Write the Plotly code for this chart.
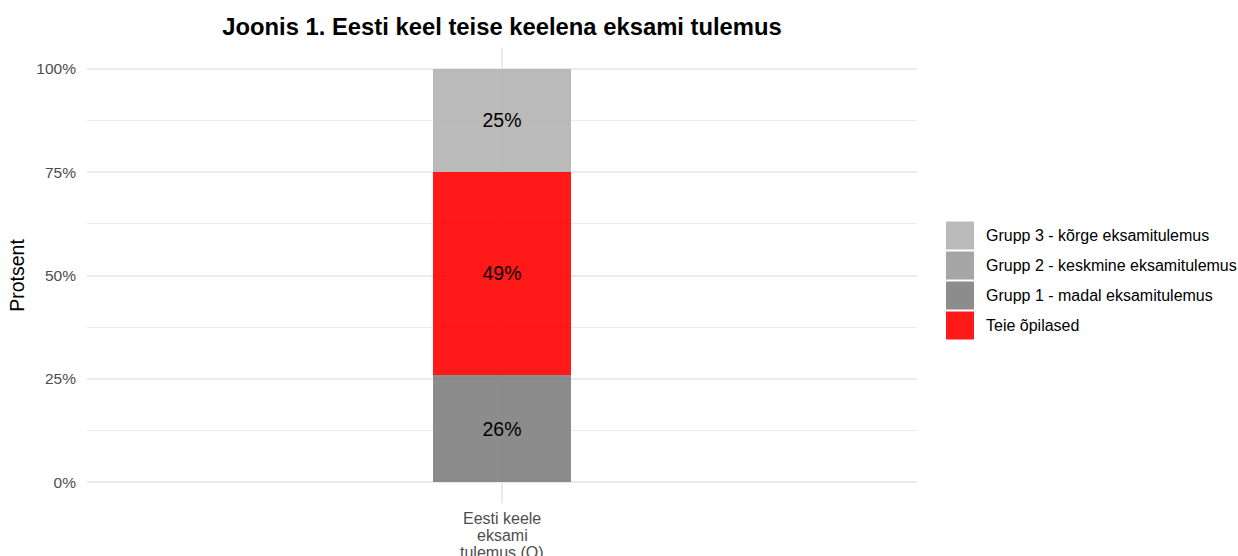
import plotly.graph_objects as go

# Data
category = "Eesti keele\neksami\ntulemus (O)"
groups = ["Grupp 1 - madal eksamitulemus", "Grupp 2 - keskmine eksamitulemus",
          "Teie õpilased", "Grupp 3 - kõrge eksamitulemus"]
values = [26, 0, 49, 25]
colors = ["#7F7F7F", "#9C9C9C", "#FF0000", "#B2B2B2"]
legend_order = ["Grupp 3 - kõrge eksamitulemus", "Grupp 2 - keskmine eksamitulemus",
                "Grupp 1 - madal eksamitulemus", "Teie õpilased"]
y_ticks = [0, 25, 50, 75, 100]
y_ticktext = [f"{v}%" for v in y_ticks]

FONT = "Liberation Sans, Arial, sans-serif"
W, H = 1238, 556
ML, MR, MT, MB = 87, 321, 48, 53
PW, PH = W - ML - MR, H - MT - MB


def px_x(px):
    return (px - ML) / PW


def px_y(py):
    return 1 - (py - MT) / PH


fig = go.Figure()
for name, val, col in zip(groups, values, colors):
    fig.add_trace(go.Bar(
        x=[category], y=[val], name=name,
        marker=dict(color=col, opacity=0.9, line=dict(width=0)),
        width=0.2,
        text=[f"{val}%" if val > 0 else ""],
        textposition="inside", insidetextanchor="middle",
        textfont=dict(family=FONT, size=19.5, color="black"),
        constraintext="none",
        showlegend=False,
    ))

shapes, annotations = [], []

# Category label, one annotation per line (tighter line height than tick labels)
for i, line in enumerate(category.split("\n")):
    annotations.append(dict(
        xref="x", yref="paper", x=category, y=px_y(518 + 17 * i),
        text=line, showarrow=False, xanchor="center", yanchor="middle",
        font=dict(family=FONT, size=16, color="#4D4D4D"),
    ))

# Legend keys + labels
key_size, key_pitch = 28, 30
lx0, ly0 = 946, 221.5
for i, name in enumerate(legend_order):
    col = colors[groups.index(name)]
    top = ly0 + i * key_pitch
    shapes.append(dict(
        type="rect", xref="paper", yref="paper",
        x0=px_x(lx0), x1=px_x(lx0 + key_size),
        y0=px_y(top + key_size), y1=px_y(top),
        fillcolor=col, opacity=0.9, line=dict(width=0), layer="above",
    ))
    annotations.append(dict(
        xref="paper", yref="paper",
        x=px_x(lx0 + key_size + 10), y=px_y(top + key_size / 2),
        text=name, showarrow=False, xanchor="left", yanchor="middle",
        font=dict(family=FONT, size=16, color="black"),
    ))

fig.update_layout(
    barmode="stack",
    width=W, height=H,
    margin=dict(l=ML, r=MR, t=MT, b=MB, autoexpand=False),
    paper_bgcolor="white", plot_bgcolor="white",
    title=dict(text="<b>Joonis 1. Eesti keel teise keelena eksami tulemus</b>",
               x=(ML + PW / 2) / W, xanchor="center", y=1 - 27 / H, yanchor="middle",
               font=dict(family=FONT, size=23.8, color="black")),
    font=dict(family=FONT),
    xaxis=dict(
        range=[-0.6, 0.6], showgrid=True, gridcolor="#EBEBEB", gridwidth=1.5,
        zeroline=False, showline=False, ticks="", showticklabels=False,
        automargin=False,
    ),
    yaxis=dict(
        range=[-5, 105], tickvals=y_ticks, ticktext=y_ticktext,
        showgrid=True, gridcolor="#EBEBEB", gridwidth=2,
        zeroline=False, showline=False, ticks="",
        tickfont=dict(family=FONT, size=15.5, color="#4D4D4D"),
        ticklabelstandoff=10, automargin=False,
        minor=dict(tickvals=[12.5, 37.5, 62.5, 87.5], showgrid=True,
                   gridcolor="#EBEBEB", gridwidth=1),
        title=dict(text="Protsent", font=dict(family=FONT, size=19.5, color="black"),
                   standoff=6),
    ),
    shapes=shapes, annotations=annotations,
    showlegend=False,
)

fig.write_html("out.html")
